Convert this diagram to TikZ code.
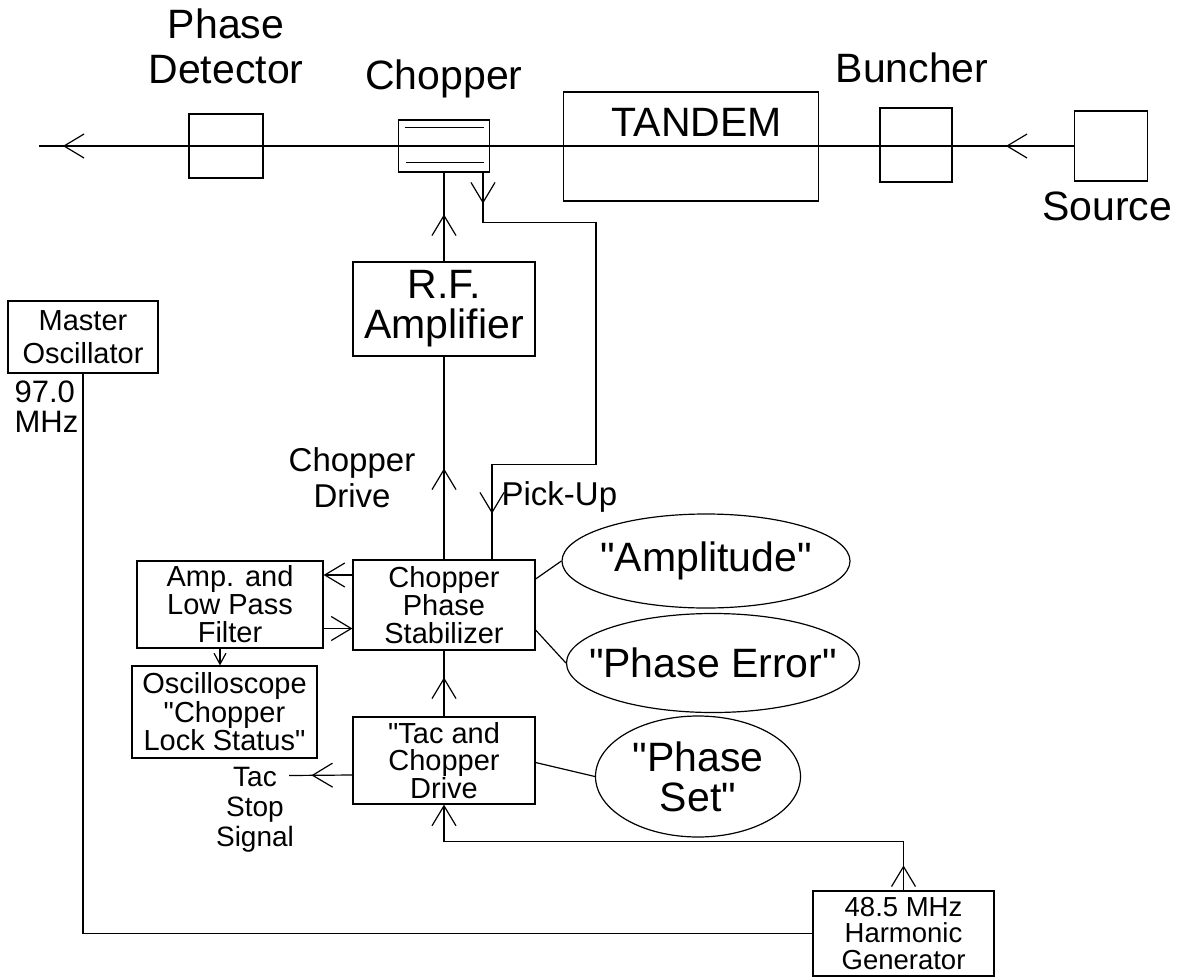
\documentclass[tikz,border=0pt]{standalone}
\usepackage{fontspec}
\setmainfont{Liberation Sans}[Ligatures=TeXOff]
\usetikzlibrary{arrows.meta,positioning,shapes.geometric,decorations.markings}
\newcommand{\bigtxt}{\fontsize{41}{40}\selectfont}
\newcommand{\midtxt}{\fontsize{33}{36}\selectfont}
\newcommand{\boxtxt}{\fontsize{29}{28}\selectfont}
\tikzset{
  block/.style={draw,inner sep=0pt,align=center,font=\boxtxt},
  dial/.style={draw,ellipse,inner sep=0pt,align=center,font=\bigtxt},
  lbl/.style={inner sep=0pt,align=center},
  barb/.style={-{Straight Barb[length=20pt,width=24pt]}},
  smallbarb/.style={-{Straight Barb[length=11pt,width=12pt]}},
  tipat/.style={postaction={decorate,decoration={markings,
      mark=at position #1 with {\arrow{Straight Barb[length=20pt,width=24pt]}}}}}
}
\begin{document}
\begin{tikzpicture}[x=1pt,y=-1pt,line width=1.2pt]
  \useasboundingbox (0,0) rectangle (1182,979);
  % beam line
  \node[block,minimum width=74pt,minimum height=64pt] (pd) at (226,146) {};
  \node[block,minimum width=91pt,minimum height=52pt] (chop) at (444,146) {};
  \node[block,minimum width=255pt,minimum height=109pt] (tandem) at (691,146.5) {};
  \node[block,minimum width=72pt,minimum height=74pt] (bunch) at (916,145) {};
  \node[block,minimum width=73pt,minimum height=70pt] (src) at (1111,146) {};
  \coordinate (beamend) at (39,146);
  \node[lbl,font=\fontsize{41}{45}\selectfont,above=29pt of pd] (pdlbl) {Phase\\Detector};
  \node[lbl,font=\bigtxt,above=30pt of chop,anchor=base] (choplbl) {Chopper};
  \node[lbl,font=\bigtxt,anchor=base] (tanlbl) at ([xshift=6pt,yshift=10.5pt]tandem.center) {TANDEM};
  \node[lbl,font=\bigtxt,above=25pt of bunch,anchor=base,xshift=-4pt] (bunchlbl) {Buncher};
  \node[lbl,font=\bigtxt,below=39pt of src,anchor=base,xshift=-4pt] (srclbl) {Source};
  \draw[tipat=68pt,tipat=1011pt] (src.west) -- (beamend);
  \draw ([xshift=7pt,yshift=-8pt]chop.north west) -- ([xshift=-6pt,yshift=-8pt]chop.north east);
  \draw ([xshift=8pt,yshift=10pt]chop.south west) -- ([xshift=-6pt,yshift=10pt]chop.south east);
  % chopper drive chain
  \node[block,font=\bigtxt,minimum width=182pt,minimum height=94pt] (rf) at (444,309) {R.F.\\Amplifier};
  \node[block,minimum width=182pt,minimum height=90pt] (stab) at (444,605) {Chopper\\Phase\\Stabilizer};
  \node[block,minimum width=182pt,minimum height=87pt,font=\fontsize{29}{27}\selectfont] (tac) at (444,760.5) {"Tac and\\Chopper\\Drive};
  \node[block,minimum width=186pt,minimum height=87pt] (amp) at (230,604.5) {Amp. and\\Low Pass\\Filter};
  \node[block,minimum width=185pt,minimum height=92pt,font=\fontsize{29}{28.5}\selectfont] (osc) at (224.5,712) {Oscilloscope\\"Chopper\\Lock Status"};
  \node[block,minimum width=150pt,minimum height=72pt,font=\fontsize{29}{33}\selectfont] (mo) at (83,337) {Master\\Oscillator};
  \node[block,minimum width=181pt,minimum height=85pt,font=\fontsize{27.5}{26.5}\selectfont] (hg) at (903.5,933.5) {48.5 MHz\\Harmonic\\Generator};
  \node[dial,minimum width=288pt,minimum height=94pt] (ampl) at (706,561) {\makebox[0pt]{"Amplitude"}};
  \node[dial,minimum width=293pt,minimum height=99pt] (perr) at (713,663) {\makebox[0pt]{"Phase Error"}};
  \node[dial,minimum width=205pt,minimum height=121pt] (pset) at (698,776.5) {"Phase\\Set"};
  \node[lbl,font=\midtxt] (drvlbl) at (352,478) {Chopper\\Drive};
  \node[lbl,font=\midtxt,anchor=base west] (pulbl) at (501,505) {Pick-Up};
  \node[lbl,font=\fontsize{31}{30}\selectfont,align=left,anchor=north west] (mhzlbl) at (14,380) {97.0\\MHz};
  \node[lbl,font=\fontsize{28}{30}\selectfont] (stoplbl) at (255,810) {Tac\\Stop\\Signal};
  \coordinate (stopend) at (289,775.5);
  \draw[tipat=47pt] (rf.north) -- (chop.south);
  \draw[tipat=91pt] (stab.north) -- (rf.south);
  \draw[tipat=31pt,tipat=558pt] ([xshift=39pt]chop.south) -- ++(0,50) -- ++(113,0)
    -- ++(0,242) -- ++(-104,0) -- ([xshift=48pt]stab.north);
  \draw[barb] ([yshift=30pt]stab.west) -- ([yshift=30pt]stab.west -| amp.east);
  \draw[barb] ([yshift=-24pt]amp.east) -- ([yshift=-24pt]amp.east -| stab.west);
  \draw[smallbarb] ([xshift=-10pt]amp.south) -- ([xshift=-10pt]amp.south |- osc.north);
  \draw[tipat=39pt] (tac.north) -- (stab.south);
  \draw[tipat=41pt] ([yshift=-14.5pt]tac.west) -- (stopend);
  \draw ([yshift=26pt]stab.east) -- (ampl.west);
  \draw ([yshift=-25pt]stab.east) -- (perr.west);
  \draw ([yshift=-2pt]tac.east) -- (pset.west);
  \draw[tipat=25pt,barb] (hg.north) -- ++(0,-49) -| (tac.south);
  \draw (mo.south) |- (hg.west);
\end{tikzpicture}
\end{document}
